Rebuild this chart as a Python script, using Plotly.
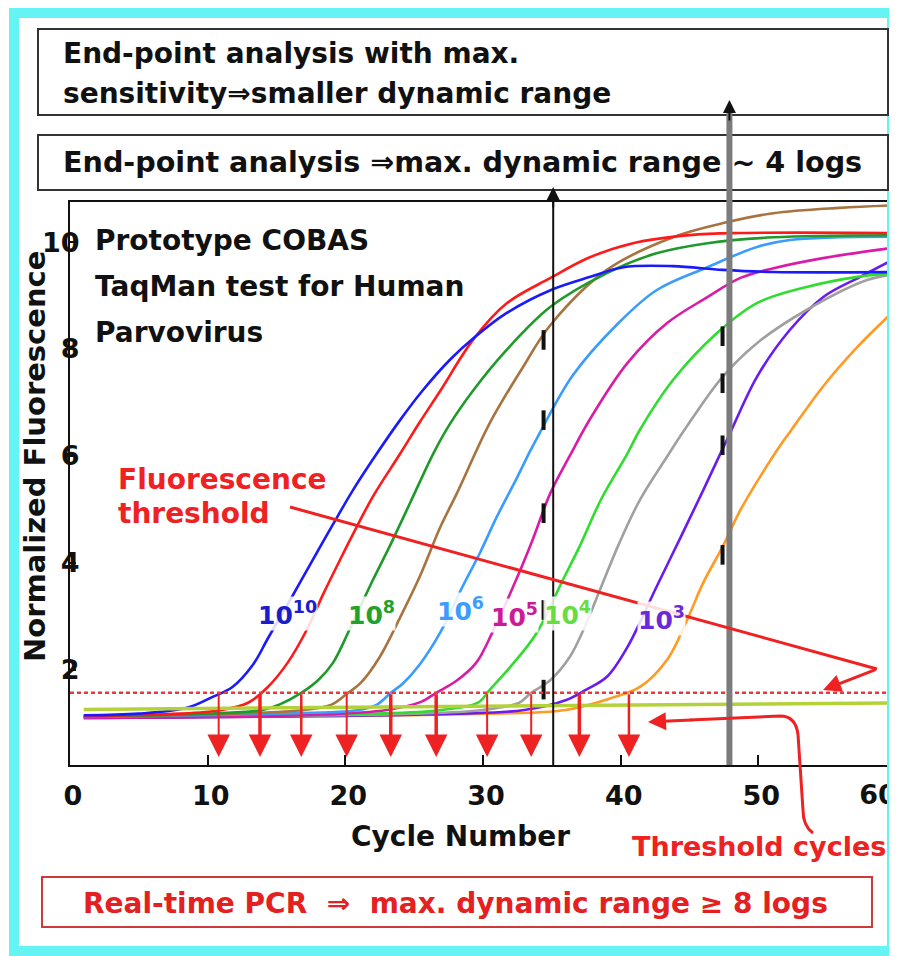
import plotly.graph_objects as go

# ---------------- data ----------------
X_RANGE = [0, 60]
Y_RANGE = [0.22, 10.75]
X_TICKS = [0, 10, 20, 30, 40, 50]
X_LAST_TICK = [60]
Y_TICKS = [2, 4, 6, 8, 10]

THRESHOLD = 1.57
CT_VALUES = [10.8, 13.8, 16.8, 20.1, 23.3, 26.6, 30.3, 33.5, 37.0, 40.6]
END_POINT_CYCLES = [35.1, 47.9]

blue_x = [1, 5, 8.5, 10.4, 11.8, 13.3, 14.4, 16.2, 17.4, 19.1, 20.6, 22.3, 24, 25.6, 27.6, 29.3, 31.7, 34.9, 37.8, 40.2, 43.8, 47.4, 51.1, 60]
blue_y = [1.15, 1.18, 1.29, 1.5, 1.68, 2.1, 2.6, 3.4, 3.95, 4.72, 5.38, 6.05, 6.68, 7.22, 7.8, 8.2, 8.67, 9.1, 9.35, 9.53, 9.55, 9.48, 9.44, 9.44]

red_x = [1, 8, 11, 12.9, 14.3, 15.8, 17.2, 18.4, 19.6, 20.8, 22, 24, 25.4, 26.9, 29.3, 31.7, 34.9, 37.8, 40.9, 45, 48.7, 60]
red_y = [1.14, 1.18, 1.25, 1.38, 1.66, 2.13, 2.75, 3.42, 4.05, 4.66, 5.24, 6.05, 6.63, 7.22, 8.18, 8.85, 9.33, 9.72, 9.98, 10.13, 10.17, 10.17]

dkgreen_x = [1, 10, 14, 15.2, 16.8, 18, 19.1, 20.3, 22, 23.2, 24.7, 26.4, 27.6, 29.3, 31.7, 34.9, 39, 42.6, 46.3, 51.1, 60]
dkgreen_y = [1.13, 1.18, 1.25, 1.35, 1.57, 1.8, 2.13, 2.75, 3.68, 4.3, 5.12, 6.05, 6.6, 7.23, 7.98, 8.79, 9.42, 9.79, 9.98, 10.09, 10.13]

brown_x = [1, 12, 17, 19.0, 20.1, 21.1, 22.5, 24, 25.4, 26.9, 28.1, 30.5, 32.9, 34.9, 39, 43.8, 47.7, 51.1, 55.9, 60]
brown_y = [1.13, 1.18, 1.25, 1.35, 1.55, 1.75, 2.24, 2.99, 3.74, 4.67, 5.3, 6.62, 7.66, 8.45, 9.48, 10.09, 10.37, 10.54, 10.64, 10.69]

ltblue_x = [1, 15, 21, 22.3, 23.3, 24.2, 25.4, 26.9, 28.5, 29.8, 31, 32.5, 33.4, 34.1, 36.5, 39.7, 42.6, 46.3, 49.9, 52.3, 60]
ltblue_y = [1.12, 1.18, 1.25, 1.35, 1.57, 1.75, 2.1, 2.7, 3.55, 4.2, 4.86, 5.61, 6.08, 6.42, 7.5, 8.45, 9.1, 9.53, 9.91, 10.04, 10.1]

magenta_x = [1, 18, 23, 25.5, 26.6, 28.1, 29.5, 30.7, 32.5, 33.6, 34.9, 36.3, 37.8, 40.5, 43.4, 46.3, 48.7, 51.1, 54.7, 60]
magenta_y = [1.1, 1.16, 1.25, 1.4, 1.57, 1.8, 2.13, 2.71, 3.74, 4.43, 5.31, 6.0, 6.7, 7.74, 8.49, 8.97, 9.33, 9.51, 9.7, 9.9]

lime_x = [1, 22, 27, 29.6, 30.5, 32, 33.9, 35.8, 37, 38.6, 40.5, 41.4, 43.8, 47, 49.9, 53.5, 57.2, 60]
lime_y = [1.12, 1.18, 1.25, 1.38, 1.63, 2.06, 2.69, 3.68, 4.3, 5.2, 6.05, 6.49, 7.42, 8.3, 8.86, 9.16, 9.35, 9.42]

gray_x = [1, 25, 30, 32.6, 33.5, 34.9, 36.3, 37.3, 38.5, 39.9, 41.4, 43.4, 44.8, 47.4, 49.9, 53.5, 57.9, 60]
gray_y = [1.12, 1.18, 1.25, 1.38, 1.57, 1.81, 2.24, 2.75, 3.5, 4.37, 5.18, 6.0, 6.55, 7.48, 8.11, 8.73, 9.29, 9.4]

purple_x = [1, 28, 33, 36.1, 37.5, 39, 40.5, 42.6, 44.3, 46, 47.2, 47.9, 49.9, 52.3, 54.7, 57.4, 60]
purple_y = [1.1, 1.18, 1.25, 1.44, 1.63, 1.87, 2.43, 3.55, 4.45, 5.36, 6.02, 6.4, 7.48, 8.36, 8.97, 9.35, 9.7]

orange_x = [1, 30, 36, 39.4, 41.4, 43.4, 44.8, 46, 47.4, 48.7, 50.1, 51.6, 52.3, 54.7, 57.2, 60]
orange_y = [1.1, 1.18, 1.25, 1.48, 1.68, 2.2, 2.92, 3.63, 4.3, 4.99, 5.6, 6.2, 6.45, 7.3, 8.04, 8.75]

neg_ctrl_x = [1, 20, 40, 60]
neg_ctrl_y = [1.26, 1.3, 1.34, 1.38]

# short black marks where curves cross the end-point cycles
mark_x = [34.4, 34.4, 34.4, 34.4, 34.4, 47.4, 47.4, 47.4, 47.4]
mark_y = [8.17, 6.67, 4.93, 3.12, 1.63, 8.24, 7.36, 6.2, 4.15]

dilution_labels = ["10<sup>10</sup>", "10<sup>8</sup>", "10<sup>6</sup>", "10<sup>5</sup>", "10<sup>4</sup>", "10<sup>3</sup>"]

# ---------------- figure ----------------
W, H = 897, 956          # browser window (reference pixel space)
OFF = 8                  # default page margin of the html body
PL, PR, PT, PB = 70, 896, 202, 765  # plot area, reference pixels


def PX(px):
    return (px - PL) / (PR - PL)


def PY(py):
    return (PB - py) / (PB - PT)


def XP(x):
    return (x - X_RANGE[0]) / (X_RANGE[1] - X_RANGE[0])


FONT = "DejaVu Sans"
RED = "#ee2222"

fig = go.Figure()

curves = [
    (orange_x, orange_y, "#ff9a22"),
    (purple_x, purple_y, "#6a1cf0"),
    (gray_x, gray_y, "#a0a0a0"),
    (lime_x, lime_y, "#2fdc2f"),
    (magenta_x, magenta_y, "#d81ca8"),
    (ltblue_x, ltblue_y, "#3a9cff"),
    (brown_x, brown_y, "#a8733e"),
    (dkgreen_x, dkgreen_y, "#1f9a2a"),
    (red_x, red_y, "#ff1a1a"),
    (blue_x, blue_y, "#1a1aff"),
]
for xs, ys, col in curves:
    fig.add_trace(go.Scatter(x=xs, y=ys, mode="lines", line=dict(color=col, width=2.6, shape="spline"),
                             hoverinfo="skip"))

fig.add_trace(go.Scatter(x=neg_ctrl_x, y=neg_ctrl_y, mode="lines",
                         line=dict(color="#b3d23a", width=3.5), hoverinfo="skip"))

fig.add_trace(go.Scatter(x=X_RANGE, y=[THRESHOLD, THRESHOLD], mode="lines", xaxis="x2",
                         line=dict(color="#e83a3a", width=2.5, dash="4px,3px"), hoverinfo="skip"))

fig.add_trace(go.Scatter(x=mark_x, y=mark_y, mode="markers",
                         marker=dict(symbol="line-ns-open", size=14, color="#111",
                                     line=dict(color="#111", width=4)),
                         hoverinfo="skip"))

shapes = []
annotations = []

# cyan frame
shapes.append(dict(type="rect", xref="paper", yref="paper", x0=PX(14), x1=PX(892), y0=PY(951), y1=PY(13),
                   line=dict(color="#66f3f3", width=10), layer="above"))
# top boxes
shapes.append(dict(type="rect", xref="paper", yref="paper", x0=PX(38), x1=PX(888), y0=PY(115), y1=PY(29),
                   line=dict(color="#333", width=2)))
shapes.append(dict(type="rect", xref="paper", yref="paper", x0=PX(38), x1=PX(888), y0=PY(190), y1=PY(135),
                   line=dict(color="#333", width=2)))
# bottom box
shapes.append(dict(type="rect", xref="paper", yref="paper", x0=PX(42), x1=PX(872), y0=PY(927), y1=PY(877),
                   line=dict(color="#cc3a3a", width=2)))

# end-point cycle lines
shapes.append(dict(type="line", xref="paper", yref="paper", x0=XP(END_POINT_CYCLES[0]), x1=XP(END_POINT_CYCLES[0]),
                   y0=0, y1=PY(200), line=dict(color="#111", width=2)))
annotations.append(dict(xref="paper", yref="paper", x=XP(END_POINT_CYCLES[0]), y=PY(187), ax=0, ay=22,
                        showarrow=True, arrowhead=2, arrowsize=1.3, arrowwidth=2, arrowcolor="#111", text=""))
shapes.append(dict(type="line", xref="paper", yref="paper", x0=XP(END_POINT_CYCLES[1]), x1=XP(END_POINT_CYCLES[1]),
                   y0=0, y1=PY(112), line=dict(color="#7c7c7c", width=6)))
annotations.append(dict(xref="paper", yref="paper", x=XP(END_POINT_CYCLES[1]), y=PY(100), ax=0, ay=22,
                        showarrow=True, arrowhead=2, arrowsize=1.3, arrowwidth=2, arrowcolor="#111", text=""))

# threshold pointer
shapes.append(dict(type="line", xref="paper", yref="paper", x0=PX(290), y0=PY(507), x1=PX(877), y1=PY(669),
                   line=dict(color=RED, width=3)))
annotations.append(dict(xref="paper", yref="paper", x=PX(823), y=PY(690), ax=54, ay=-21,
                        showarrow=True, arrowhead=2, arrowsize=1.2, arrowwidth=3, arrowcolor=RED, text=""))

# threshold cycles pointer
path = "M {:.4f},{:.4f} Q {:.4f},{:.4f} {:.4f},{:.4f} L {:.4f},{:.4f} Q {:.4f},{:.4f} {:.4f},{:.4f} L {:.4f},{:.4f}".format(
    PX(813), PY(833), PX(803), PY(826), PX(803), PY(810), PX(798), PY(735), PX(796), PY(716), PX(780), PY(716),
    PX(690), PY(720))
shapes.append(dict(type="path", xref="paper", yref="paper", path=path, line=dict(color=RED, width=3)))
annotations.append(dict(xref="paper", yref="paper", x=PX(648), y=PY(722), ax=45, ay=-2,
                        showarrow=True, arrowhead=2, arrowsize=1.2, arrowwidth=3, arrowcolor=RED, text=""))

# threshold-cycle arrows
ARROW_W = [2, 3.5, 2.5, 2, 3.5, 3.5, 2, 2, 3.5, 2.5]
for ct, w in zip(CT_VALUES, ARROW_W):
    annotations.append(dict(xref="x", yref="y", x=ct, y=0.37, axref="x", ayref="y", ax=ct, ay=THRESHOLD,
                            showarrow=True, arrowhead=2, arrowsize=4.5 / w, arrowwidth=w, arrowcolor=RED, text=""))


def txt(s, px, py, size=28, color="#111", xanchor="left", **kw):
    d = dict(xref="paper", yref="paper", x=PX(px), y=PY(py), text=s, showarrow=False,
             xanchor=xanchor, yanchor="middle", font=dict(family=FONT, size=size, color=color, weight="bold"))
    d.update(kw)
    annotations.append(d)


txt("End-point analysis with max.", 61, 54, size=28)
txt("sensitivity\u21d2smaller dynamic range", 61, 93, size=28)
txt("End-point analysis \u21d2max. dynamic range ~ 4 logs", 61, 162, size=28.6)

txt("Prototype COBAS", 93, 240)
txt("TaqMan test for Human", 93, 286)
txt("Parvovirus", 93, 332)

txt("Fluorescence", 116, 479, color=RED)
txt("threshold", 116, 513, color=RED)

txt("Threshold cycles", 759, 846, color=RED, xanchor="center", size=27)
txt("Cycle Number", 460, 836, xanchor="center")
txt("Normalized Fluorescence", 35, 457, xanchor="center", size=29, textangle=-90)
txt("Real-time PCR  \u21d2  max. dynamic range \u2265 8 logs", 455, 903, color="#e42020", xanchor="center", size=28)

# dilution labels
lab_pos = [(257, 613, "#1c1ccc"), (347, 613, "#22a22a"), (436, 609, "#3d9dff"),
           (490, 615, "#cc1a99"), (543, 613, "#66dd44"), (637, 618, "#6a2ad8")]
for s, (px, py, col) in zip(dilution_labels, lab_pos):
    txt(s, px, py, size=25, color=col, bgcolor="rgba(255,255,255,0.85)", borderpad=0)

tick_font = dict(family=FONT, size=27, color="#111", weight="bold")

fig.update_layout(
    width=W - OFF, height=H - OFF, autosize=False,
    margin=dict(l=PL - OFF, r=W - PR, t=PT - OFF, b=H - PB, pad=0, autoexpand=False),
    paper_bgcolor="white", plot_bgcolor="white",
    showlegend=False,
    shapes=shapes, annotations=annotations,
    font=dict(family=FONT, color="#111"),
    xaxis=dict(range=X_RANGE, tickvals=X_TICKS + X_LAST_TICK, ticktext=[str(v) for v in X_TICKS] + [""],
               showgrid=False, zeroline=False, automargin=False,
               showline=True, linecolor="#111", linewidth=2, mirror=True,
               ticks="inside", ticklen=10, tickwidth=2, tickcolor="#111",
               tickfont=tick_font, ticklabelstandoff=6, ticklabelshift=3),
    xaxis2=dict(range=X_RANGE, overlaying="x", matches="x", anchor="y", side="bottom",
                tickvals=X_LAST_TICK, ticktext=[str(v) for v in X_LAST_TICK],
                showgrid=False, zeroline=False, automargin=False, showline=False,
                ticks="", tickfont=tick_font, ticklabelstandoff=11, ticklabelshift=-18,
                ticklabeloverflow="allow"),
    yaxis=dict(range=Y_RANGE, tickvals=Y_TICKS, showgrid=False, zeroline=False, automargin=False,
               showline=True, linecolor="#111", linewidth=2, mirror=False,
               ticks="inside", ticklen=6, tickwidth=2, tickcolor="#111",
               tickfont=tick_font, ticklabelstandoff=-17),
)

fig.write_html("out.html")
